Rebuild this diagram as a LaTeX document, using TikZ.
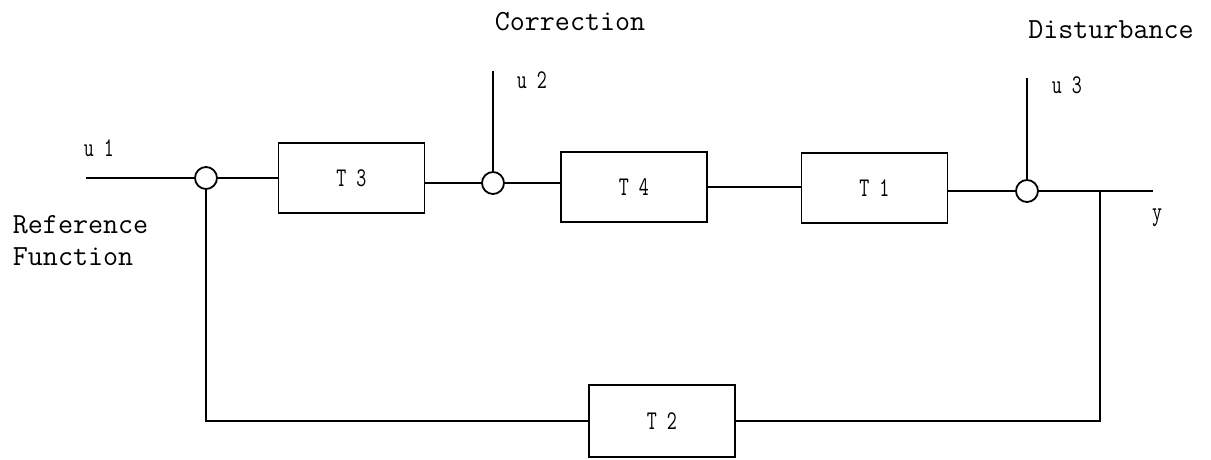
\documentclass[tikz,border=0pt]{standalone}
\usepackage{graphicx}
\newcommand{\biglab}{\ttfamily\fontsize{14.6pt}{16pt}\selectfont}
\newcommand{\smlab}[1]{{\ttfamily\fontsize{13.5pt}{15pt}\selectfont\scalebox{0.72}[1]{#1}}}
\begin{document}
\begin{tikzpicture}[x=0.5pt,y=-0.5pt,
  line width=0.9pt,
  blockbox/.style={draw,rectangle,minimum width=73pt,minimum height=35pt,inner sep=0pt},
  sumnode/.style={draw,circle,minimum size=11pt,inner sep=0pt},
  wire/.style={line width=0.9pt},
  biglabel/.style={inner sep=0pt,font=\biglab},
  smlabel/.style={inner sep=0pt}]
\useasboundingbox (0,0) rectangle (1211,460);
% blocks
\node[blockbox] (T3) at (351.5,178) {\smlab{T 3}};
\node[blockbox] (T4) at (634,187) {\smlab{T 4}};
\node[blockbox] (T1) at (874.5,188) {\smlab{T 1}};
\node[blockbox,minimum height=36pt] (T2) at (662,421) {\smlab{T 2}};
% summing junctions
\node[sumnode] (S1) at (206,178) {};
\node[sumnode] (S2) at (493,183) {};
\node[sumnode] (S3) at (1027,191) {};
% free ends
\coordinate (in1) at (86,178);
\coordinate (in2) at (493,71);
\coordinate (in3) at (1027,78);
\coordinate (br) at (1100,191);
\coordinate (out) at (1153,191);
% connectors
\draw[wire] (in1) -- (S1.west);
\draw[wire] (S1.east) -- (S1.east -| T3.west);
\draw[wire] (T3.east |- S2.west) -- (S2.west);
\draw[wire] (in2) -- (S2.north);
\draw[wire] (S2.east) -- (S2.east -| T4.west);
\draw[wire] (T4.east) -- (T4.east -| T1.west);
\draw[wire] (T1.east |- S3.west) -- (S3.west);
\draw[wire] (in3) -- (S3.north);
\draw[wire] (S3.east) -- (out);
\draw[wire] (br) |- (T2.east);
\draw[wire] (T2.west) -| (S1.south);
% labels
\node[smlabel] (lu1) at (99,148) {\smlab{u 1}};
\node[smlabel] (lu2) at (532,80) {\smlab{u 2}};
\node[smlabel] (lu3) at (1067,85) {\smlab{u 3}};
\node[smlabel] (ly) at (1157,218) {\smlab{y}};
\node[biglabel] (corr) at (570,22) {Correction};
\node[biglabel] (dist) at (1111,30) {Disturbance};
\node[biglabel,anchor=west,align=left] (ref) at (12,241) {Reference\\Function};
\end{tikzpicture}
\end{document}
